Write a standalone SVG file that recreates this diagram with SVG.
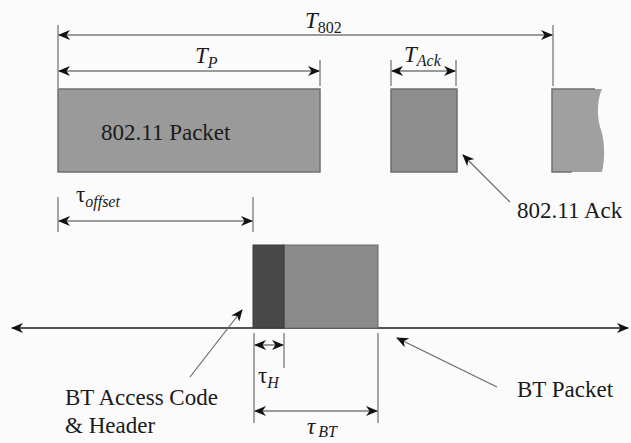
<svg xmlns="http://www.w3.org/2000/svg" width="631" height="443" viewBox="0 0 631 443">
<defs>
<style>
text{font-family:'Liberation Serif','Times New Roman',serif;fill:#1a1a1a}
.lbl{font-size:23px}
.sym{font-size:23px;font-style:italic}
.sub{font-size:16px;font-style:italic}
.subn{font-size:16px}
.dim{stroke:#7a7a7a;stroke-width:1.5;fill:none}
.tick{stroke:#8a8a8a;stroke-width:1.5;fill:none}
.ptr{stroke:#6a6a6a;stroke-width:1.2;fill:none}
</style>
<marker id="ah" viewBox="0 0 12 10" refX="11" refY="5" markerWidth="12" markerHeight="10" markerUnits="userSpaceOnUse" orient="auto-start-reverse">
<path d="M0,0 L12,5 L0,10 L3.5,5 Z" fill="#111"/>
</marker>
</defs>
<rect width="631" height="443" fill="#fbfbfb"/>

<g id="connectors">
<line class="tick" x1="58" y1="25" x2="58" y2="88"/>
<line class="tick" x1="553" y1="25" x2="553" y2="86"/>
<line class="tick" x1="320" y1="60" x2="320" y2="86"/>
<line class="tick" x1="391" y1="60" x2="391" y2="86"/>
<line class="tick" x1="456" y1="60" x2="456" y2="86"/>
<line class="tick" x1="58" y1="197" x2="58" y2="232"/>
<line class="tick" x1="253" y1="197" x2="253" y2="232"/>
<line class="tick" x1="254" y1="333" x2="254" y2="423"/>
<line class="tick" x1="284" y1="333" x2="284" y2="368"/>
<line class="tick" x1="378" y1="333" x2="378" y2="423"/>
<line class="dim" x1="59" y1="35" x2="552" y2="35" marker-start="url(#ah)" marker-end="url(#ah)"/>
<line class="dim" x1="59" y1="71" x2="319" y2="71" marker-start="url(#ah)" marker-end="url(#ah)"/>
<line class="dim" x1="392" y1="71" x2="455" y2="71" marker-start="url(#ah)" marker-end="url(#ah)"/>
<line class="dim" x1="59" y1="221" x2="252" y2="221" marker-start="url(#ah)" marker-end="url(#ah)"/>
<line class="dim" x1="255" y1="345" x2="283" y2="345" marker-start="url(#ah)" marker-end="url(#ah)"/>
<line class="dim" x1="255" y1="411" x2="377" y2="411" marker-start="url(#ah)" marker-end="url(#ah)"/>
<line x1="12" y1="328" x2="628" y2="328" stroke="#555" stroke-width="2" marker-start="url(#ah)" marker-end="url(#ah)"/>
<line class="ptr" x1="510" y1="202" x2="463" y2="155" marker-end="url(#ah)"/>
<line class="ptr" x1="190" y1="377" x2="242" y2="310" marker-end="url(#ah)"/>
<line class="ptr" x1="497" y1="387" x2="397" y2="338" marker-end="url(#ah)"/>
</g>

<g id="packet80211">
<rect x="58" y="89" width="262" height="83" fill="#9a9a9a" stroke="#707070" stroke-width="1.5"/>
<text class="lbl" x="101" y="140">802.11 Packet</text>
</g>

<g id="ack80211">
<rect x="391" y="89" width="66" height="83" fill="#8e8e8e" stroke="#6e6e6e" stroke-width="1.5"/>
</g>

<g id="nextpacket">
<path d="M552,89 L602,89 C597,100 597,115 600,127 C604,137 606,155 602,172 L552,172 Z" fill="#a0a0a0"/>
<path d="M595,89 L552,89 L552,172 L572,172" fill="none" stroke="#707070" stroke-width="1.5"/>
</g>

<g id="ackLabel">
<text class="lbl" x="517" y="218">802.11 Ack</text>
</g>

<g id="btpacket">
<rect x="284" y="245" width="94" height="83" fill="#8a8a8a" stroke="#6a6a6a" stroke-width="1"/>
<rect x="253" y="245" width="31" height="83" fill="#484848" stroke="#3a3a3a" stroke-width="1"/>
</g>

<g id="labels">
<text x="305" y="28"><tspan class="sym">T</tspan><tspan class="subn" dy="5">802</tspan></text>
<text x="195" y="63"><tspan class="sym">T</tspan><tspan class="sub" dy="5">P</tspan></text>
<text x="404" y="62"><tspan class="sym">T</tspan><tspan class="sub" dy="4">Ack</tspan></text>
<text x="76" y="202"><tspan class="lbl">τ</tspan><tspan class="sub" dy="5">offset</tspan></text>
<text x="258" y="383"><tspan class="lbl">τ</tspan><tspan class="sub" dy="5">H</tspan></text>
<text x="307" y="434"><tspan class="sym">τ</tspan><tspan class="sub" dy="3" dx="3">BT</tspan></text>
<text class="lbl" x="65" y="405">BT Access Code</text>
<text class="lbl" x="65" y="433">&amp; Header</text>
<text class="lbl" x="517" y="397">BT Packet</text>
</g>
</svg>
